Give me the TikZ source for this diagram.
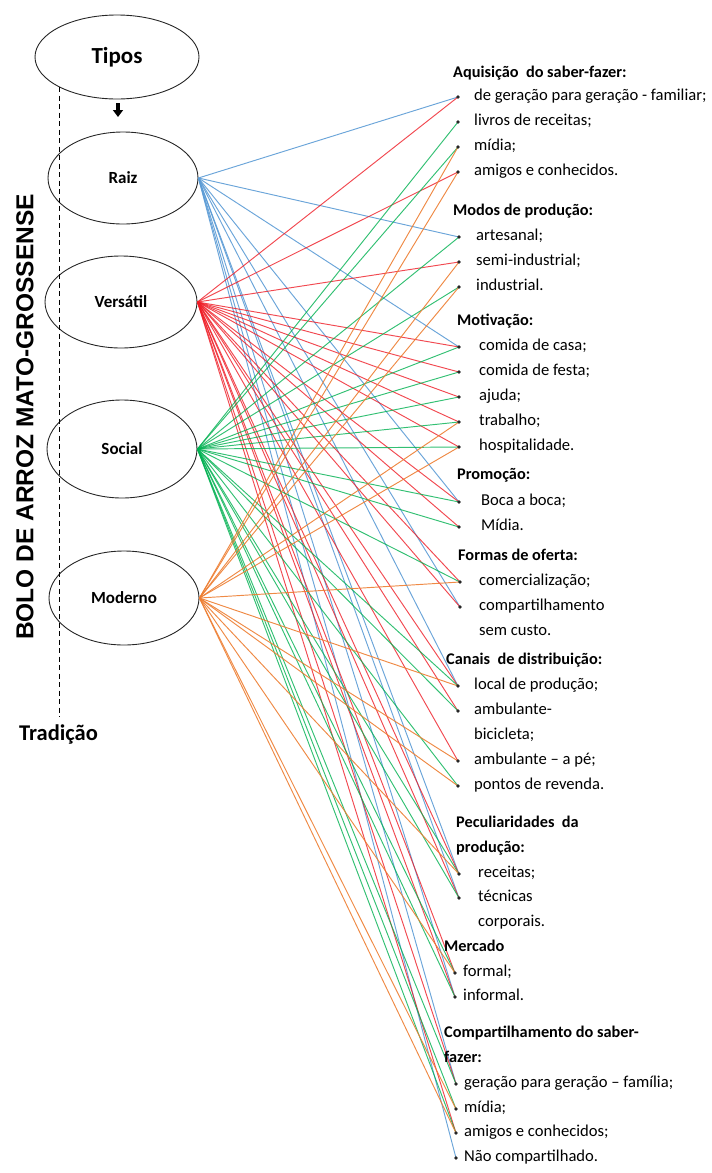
\documentclass[tikz,border=0pt]{standalone}
\usepackage{fontspec}
\setmainfont{Carlito}
\newfontfamily\arialf{Liberation Sans}
\usetikzlibrary{shapes.geometric,arrows.meta}
\definecolor{craiz}{HTML}{5B9BD5}
\definecolor{cvers}{HTML}{EE1C25}
\definecolor{csoc}{HTML}{00B050}
\definecolor{cmod}{HTML}{ED7D31}
\begin{document}
\begin{tikzpicture}[x=1pt,y=-1pt,
  tipo/.style={ellipse,draw=black!85,line width=0.9pt,inner sep=0pt,font=\fontsize{17}{20}\selectfont\bfseries},
  hd/.style={anchor=west,inner sep=0pt,font=\fontsize{16.3}{19}\selectfont\bfseries,text height=11pt,text depth=3.5pt},
  it/.style={anchor=west,inner sep=0pt,font=\fontsize{16.6}{19}\selectfont,text height=11pt,text depth=3.5pt},
  dotb/.style={circle,fill=black!85,inner sep=0pt,minimum size=3.8pt},
  lraiz/.style={line width=0.95pt,draw=craiz,opacity=0.9},
  lvers/.style={line width=0.95pt,draw=cvers,opacity=0.8},
  lsoc/.style={line width=0.95pt,draw=csoc,opacity=0.8},
  lmod/.style={line width=0.95pt,draw=cmod,opacity=0.9}]
\useasboundingbox (0,0) rectangle (712,1173);

% left column
\node[tipo,minimum width=164pt,minimum height=84pt,font=\fontsize{23}{26}\selectfont\bfseries] (tipos) at (117,57) {Tipos};
\node[tipo,minimum width=150pt,minimum height=92pt] (raiz) at (123,178) {Raiz};
\node[tipo,minimum width=152pt,minimum height=92pt] (vers) at (121,302) {Versátil};
\node[tipo,minimum width=150pt,minimum height=98pt] (soc) at (122,449) {Social};
\node[tipo,minimum width=150pt,minimum height=94pt] (mod) at (124,598) {Moderno};

\coordinate (atop) at (118,103);
\coordinate (abot) at (118,117);
\draw[line width=3.4pt,-{Triangle[width=10pt,length=7pt]}] (atop) -- (abot);

\coordinate (dtop) at (59,87);
\coordinate (dbot) at (59,717);
\draw[line width=0.8pt,dash pattern=on 5pt off 3.5pt] (dtop) -- (dbot);

\node[rotate=90,inner sep=0pt,font=\arialf\bfseries\fontsize{24.5}{27}\selectfont] (titulo) at (25,417) {BOLO DE ARROZ MATO-GROSSENSE};
\node[anchor=west,inner sep=0pt,font=\fontsize{22.5}{26}\selectfont\bfseries] (trad) at (19,734) {Tradição};

% bullet positions
\coordinate (b1) at (458,97);
\coordinate (b2) at (458,122);
\coordinate (b3) at (458,147);
\coordinate (b4) at (458,172);
\coordinate (b5) at (459,237);
\coordinate (b6) at (459,262);
\coordinate (b7) at (459,287);
\coordinate (b8) at (459,347);
\coordinate (b9) at (459,372);
\coordinate (b10) at (459,397);
\coordinate (b11) at (459,422);
\coordinate (b12) at (459,447);
\coordinate (b13) at (459,502);
\coordinate (b14) at (459,527);
\coordinate (b15) at (460,582);
\coordinate (b16) at (460,607);
\coordinate (b17) at (458,686);
\coordinate (b18) at (458,711);
\coordinate (b19) at (458,761);
\coordinate (b20) at (458,786);
\coordinate (b21) at (459,874);
\coordinate (b22) at (459,898);
\coordinate (b23) at (455,973);
\coordinate (b24) at (455,997);
\coordinate (b25) at (456,1084);
\coordinate (b26) at (456,1109);
\coordinate (b27) at (456,1133);
\coordinate (b28) at (456,1158);

% connectors
\foreach \b in {1,5,8,13,16,17,21,22,24,25,28}
  \draw[lraiz] (raiz.east) -- (b\b);
\foreach \b in {1,4,6,8,9,10,11,12,13,14,15,16,17,18,19,21,22,23,24,25,27}
  \draw[lvers] (vers.east) -- (b\b);
\foreach \b in {2,3,5,7,8,9,10,11,12,13,14,15,17,18,20,21,22,23,24,25,26,27}
  \draw[lsoc] (soc.east) -- (b\b);
\foreach \b in {3,4,6,7,11,12,15,17,19,20,21,23,26,27}
  \draw[lmod] (mod.east) -- (b\b);

% bullets
\foreach \b in {1,...,28}
  \node[dotb] (d\b) at (b\b) {};

% texts
\node[hd] (h1) at (453,74) {Aquisição\ \ do saber-fazer:};
\node[it] (t1) at (474,97) {de geração para geração - familiar;};
\node[it] (t2) at (474,122) {livros de receitas;};
\node[it] (t3) at (474,147) {mídia;};
\node[it] (t4) at (474,172) {amigos e conhecidos.};

\node[hd] (h2) at (453,212) {Modos de produção:};
\node[it] (t5) at (476,237) {artesanal;};
\node[it] (t6) at (476,262) {semi-industrial;};
\node[it] (t7) at (476,287) {industrial.};

\node[hd] (h3) at (457,322) {Motivação:};
\node[it] (t8) at (479,347) {comida de casa;};
\node[it] (t9) at (479,372) {comida de festa;};
\node[it] (t10) at (479,397) {ajuda;};
\node[it] (t11) at (479,422) {trabalho;};
\node[it] (t12) at (479,447) {hospitalidade.};

\node[hd] (h4) at (457,476) {Promoção:};
\node[it] (t13) at (481,502) {Boca a boca;};
\node[it] (t14) at (481,527) {Mídia.};

\node[hd] (h5) at (458,557) {Formas de oferta:};
\node[it] (t15) at (479,582) {comercialização;};
\node[it] (t16) at (479,607) {compartilhamento};
\node[it] (t16b) at (479,632) {sem custo.};

\node[hd] (h6) at (446,661) {Canais\ \ de distribuição:};
\node[it] (t17) at (474,686) {local de produção;};
\node[it] (t18) at (474,711) {ambulante-};
\node[it] (t18b) at (474,736) {bicicleta;};
\node[it] (t19) at (474,761) {ambulante – a pé;};
\node[it] (t20) at (474,786) {pontos de revenda.};

\node[hd] (h7) at (456,824) {Peculiaridades\ \ da};
\node[hd] (h7b) at (456,849) {produção:};
\node[it] (t21) at (478,874) {receitas;};
\node[it] (t22) at (478,898) {técnicas};
\node[it] (t22b) at (478,923) {corporais.};

\node[hd] (h8) at (444,948) {Mercado};
\node[it] (t23) at (463,973) {formal;};
\node[it] (t24) at (463,997) {informal.};

\node[hd] (h9) at (444,1034) {Compartilhamento do saber-};
\node[hd] (h9b) at (444,1059) {fazer:};
\node[it] (t25) at (464,1084) {geração para geração – família;};
\node[it] (t26) at (464,1109) {mídia;};
\node[it] (t27) at (464,1133) {amigos e conhecidos;};
\node[it] (t28) at (464,1158) {Não compartilhado.};
\end{tikzpicture}
\end{document}
